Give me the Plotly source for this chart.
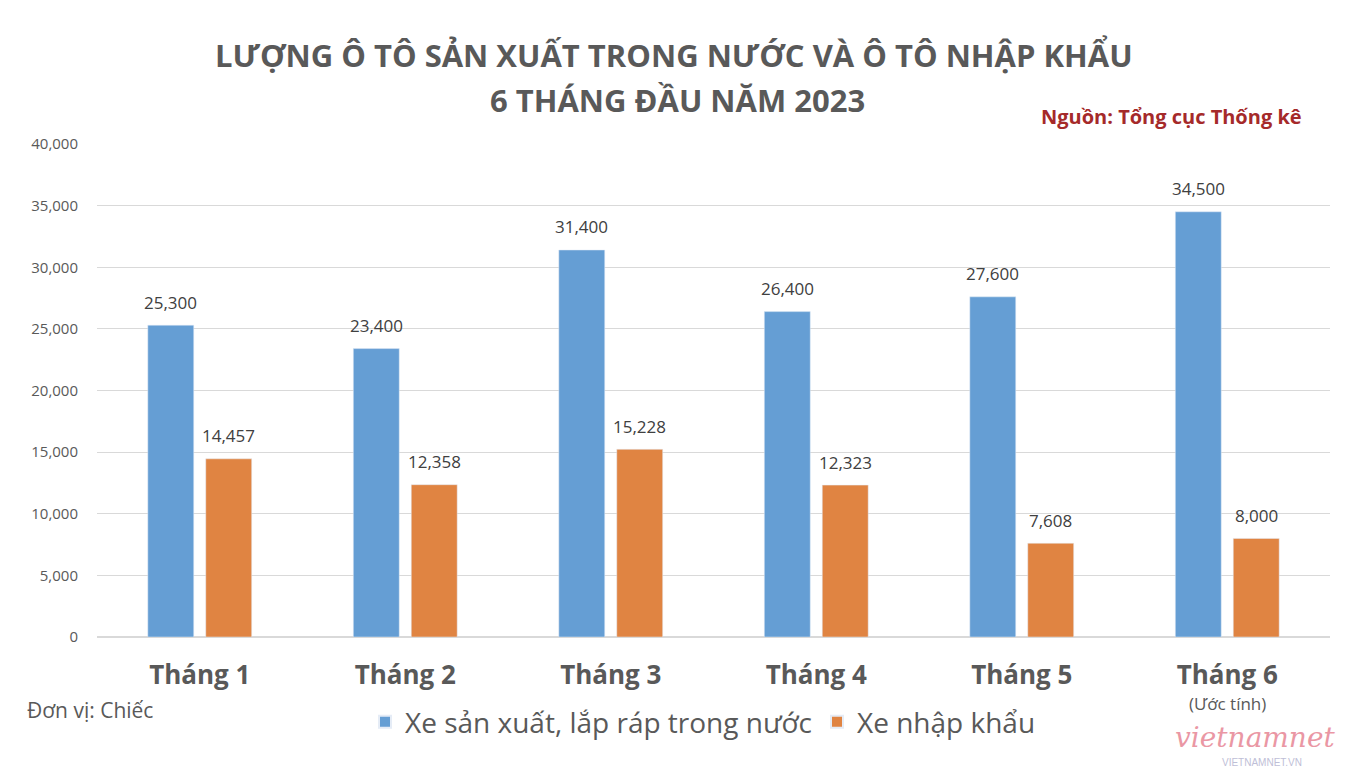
import plotly.graph_objects as go

categories = ["Tháng 1", "Tháng 2", "Tháng 3", "Tháng 4", "Tháng 5", "Tháng 6"]
domestic = [25300, 23400, 31400, 26400, 27600, 34500]
imported = [14457, 12358, 15228, 12323, 7608, 8000]
series_names = ["Xe sản xuất, lắp ráp trong nước", "Xe nhập khẩu"]
tick_vals = [0, 5000, 10000, 15000, 20000, 25000, 30000, 35000, 40000]

FONT = "Open Sans, sans-serif"
GRAY = "#595959"


def px(sx):
    return (sx - 97) / 1233


def py(sy):
    return (637 - sy) / 493


fig = go.Figure()
fig.add_trace(go.Bar(
    x=categories, y=domestic, name=series_names[0],
    marker=dict(color="#659ED4"),
))
fig.add_trace(go.Bar(
    x=categories, y=imported, name=series_names[1],
    marker=dict(color="#E08442"),
))

# data labels placed above each bar
for series, shift in ((domestic, -29), (imported, 29)):
    for cat, val in zip(categories, series):
        fig.add_annotation(
            x=cat, y=val, xref="x", yref="y", text=f"{val:,}",
            xshift=shift, yshift=23, yanchor="middle", showarrow=False,
            font=dict(size=17, color="#404040", family=FONT),
        )

fig.update_layout(
    width=1355, height=766,
    paper_bgcolor="white", plot_bgcolor="white",
    margin=dict(l=89, r=33, t=136, b=137),
    bargap=0.436, bargroupgap=0.207,
    legend=dict(
        orientation="h", x=px(703), xanchor="center", y=py(722), yanchor="middle",
        font=dict(size=28, color=GRAY, family=FONT),
        itemsizing="constant",
    ),
    xaxis=dict(
        tickmode="array", tickvals=categories,
        ticktext=[f"<b>{c}</b>" for c in categories],
        tickfont=dict(size=26, color=GRAY, family=FONT),
        showline=False, ticks="", showgrid=False,
        ticklabelstandoff=20,
    ),
    yaxis=dict(
        range=[0, 40000], tickvals=tick_vals, tickformat=",",
        tickfont=dict(size=15, color=GRAY, family=FONT),
        gridcolor="#D9D9D9", gridwidth=1, zeroline=True, zerolinecolor="#D9D9D9",
        ticklabelstandoff=18,
    ),
    showlegend=True,
)

fig.add_annotation(
    text="<b>LƯỢNG Ô TÔ SẢN XUẤT TRONG NƯỚC VÀ Ô TÔ NHẬP KHẨU</b>",
    xref="paper", yref="paper", x=px(674), xanchor="center",
    y=py(55), yanchor="middle", showarrow=False,
    font=dict(size=31, color=GRAY, family=FONT),
)
fig.add_annotation(
    text="<b>6 THÁNG ĐẦU NĂM 2023</b>",
    xref="paper", yref="paper", x=px(677), xanchor="center",
    y=py(100), yanchor="middle", showarrow=False,
    font=dict(size=31, color=GRAY, family=FONT),
)
fig.add_annotation(
    text="<b>Nguồn: Tổng cục Thống kê</b>", xref="paper", yref="paper",
    x=px(1304), xanchor="right", y=py(116), yanchor="middle", showarrow=False,
    font=dict(size=20, color="#A52A2A", family=FONT),
)
fig.add_annotation(
    text="Đơn vị: Chiếc", xref="paper", yref="paper",
    x=px(25), xanchor="left", y=py(710), yanchor="middle",
    showarrow=False, font=dict(size=21, color=GRAY, family=FONT),
)
fig.add_annotation(
    text="(Ước tính)", xref="x", yref="paper",
    x=categories[5], xanchor="center", y=py(703), yanchor="middle",
    showarrow=False, font=dict(size=17, color=GRAY, family=FONT),
)
fig.add_annotation(
    text="<i>vietnamnet</i>", xref="paper", yref="paper",
    x=px(1255), xanchor="center", y=py(737), yanchor="middle",
    showarrow=False, opacity=0.55,
    font=dict(size=28, color="#D9435A", family="DejaVu Serif, serif"),
)
fig.add_annotation(
    text="VIETNAMNET.VN", xref="paper", yref="paper",
    x=px(1262), xanchor="center", y=py(762), yanchor="middle",
    showarrow=False, opacity=0.5,
    font=dict(size=10, color="#8080B0", family="Liberation Sans, sans-serif"),
)

fig.write_html("out.html")
